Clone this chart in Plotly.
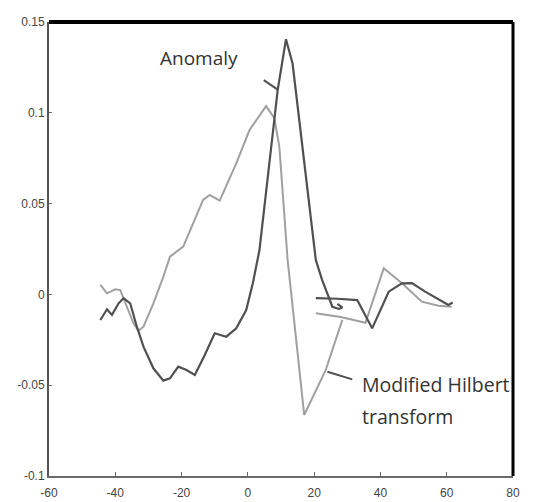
import plotly.graph_objects as go

# Anomaly (dark curve); None marks a break in the drawn line
anomaly_x = [-44.5, -42.5, -41.0, -39.0, -37.5, -35.5, -33.5, -31.5, -28.5, -25.5, -23.5, -21.0,
             -18.5, -16.0, -13.0, -10.0, -6.5, -3.5, -0.5, 1.5, 3.5, 9.0, 11.5, 13.5, 20.5, 22.4,
             25.5, 27.5, 28.5, 27.0, None,
             20.5, 27.0, 33.0, 37.0, 37.5, 42.5, 46.5, 49.5, 53.5, 60.5, 61.8]
anomaly_y = [-0.0141, -0.0082, -0.0113, -0.0049, -0.0021, -0.0049, -0.0178, -0.0288, -0.0407, -0.0475,
             -0.0462, -0.0398, -0.0416, -0.0444, -0.0334, -0.0214, -0.0233, -0.0187, -0.0086, 0.0061,
             0.0244, 0.1125, 0.1405, 0.127, 0.019, 0.008, -0.0068, -0.0080, -0.0072, -0.0052, None,
             -0.0021, -0.0024, -0.0031, -0.0178, -0.0187, 0.0015, 0.0061, 0.0062, 0.0015, -0.0058, -0.0045]

# Modified Hilbert transform (light curve)
hilbert_x = [-44.5, -42.5, -40.0, -38.5, -36.5, -34.5, -33.0, -31.5, -28.5, -25.5, -23.5, -19.5,
             -13.5, -11.5, -8.5, -3.5, 0.5, 5.5, 8.0, 9.5, 12.0, 17.0, 23.5, 28.5, None,
             20.5, 28.0, 35.5, 41.0, 46.5, 52.5, 57.5, 61.5]
hilbert_y = [0.0052, 0.0006, 0.0028, 0.0024, -0.0068, -0.0159, -0.0200, -0.0178, -0.0049, 0.0097,
             0.0208, 0.0263, 0.0520, 0.0547, 0.0516, 0.0722, 0.0905, 0.1037, 0.0970, 0.0813, 0.0190,
             -0.0664, -0.0416, -0.0140, None,
             -0.0104, -0.0125, -0.0156, 0.0144, 0.0061, -0.0040, -0.0062, -0.0068]

x_ticks = [-60, -40, -20, 0, 20, 40, 60, 80]
x_tick_text = ["-60", "-40", "-20", "0", "20", "40", "60", "80"]
y_ticks = [-0.1, -0.05, 0, 0.05, 0.1, 0.15]
y_tick_text = ["-0.1", "-0.05", "0", "0.05", "0.1", "0.15"]

fig = go.Figure()
fig.add_trace(go.Scatter(x=hilbert_x, y=hilbert_y, mode="lines",
                         line=dict(color="#a0a0a0", width=2), name="Modified Hilbert transform",
                         connectgaps=False))
fig.add_trace(go.Scatter(x=anomaly_x, y=anomaly_y, mode="lines",
                         line=dict(color="#505050", width=2.2), name="Anomaly",
                         connectgaps=False))

tick_font = dict(family="Liberation Sans Narrow, Liberation Sans, Arial", size=12, color="#444444")
label_font = dict(family="Open Sans", size=19, color="#333333")
label_font2 = dict(family="Open Sans", size=19.5, color="#333333")

fig.update_layout(
    width=537, height=502,
    margin=dict(l=49, r=24, t=22, b=26),
    paper_bgcolor="white", plot_bgcolor="white",
    showlegend=False,
    xaxis=dict(range=[-60, 80], tickvals=x_ticks, ticktext=x_tick_text, automargin=False,
               showgrid=False, zeroline=False, showline=True, linecolor="#6a6a6a", linewidth=2,
               ticks="inside", ticklen=4, tickcolor="#6a6a6a", tickfont=tick_font,
               ticklabelstandoff=5),
    yaxis=dict(range=[-0.1, 0.15], tickvals=y_ticks, ticktext=y_tick_text, automargin=False,
               showgrid=False, zeroline=False, showline=True, linecolor="#555555", linewidth=2,
               ticks="inside", ticklen=3, tickcolor="#6a6a6a", tickfont=tick_font),
    shapes=[
        dict(type="line", xref="paper", yref="paper", x0=0, x1=1, y0=1, y1=1,
             line=dict(color="black", width=4)),
        dict(type="line", xref="paper", yref="paper", x0=1, x1=1, y0=0, y1=1,
             line=dict(color="black", width=3)),
        dict(type="line", xref="x", yref="y", x0=4.8, y0=0.118, x1=9.0, y1=0.1128,
             line=dict(color="#505050", width=2)),
        dict(type="line", xref="x", yref="y", x0=24.0, y0=-0.0426, x1=31.5, y1=-0.0468,
             line=dict(color="#505050", width=2)),
    ],
    annotations=[
        dict(text="Anomaly", xref="x", yref="y", x=-14.8, y=0.1302, showarrow=False,
             xanchor="center", yanchor="middle", font=label_font),
        dict(text="Modified Hilbert", xref="x", yref="y", x=33.9, y=-0.0498,
             showarrow=False, xanchor="left", yanchor="middle", font=label_font2),
        dict(text="transform", xref="x", yref="y", x=33.9, y=-0.0674,
             showarrow=False, xanchor="left", yanchor="middle", font=label_font2),
    ],
)

fig.write_html("out.html")
